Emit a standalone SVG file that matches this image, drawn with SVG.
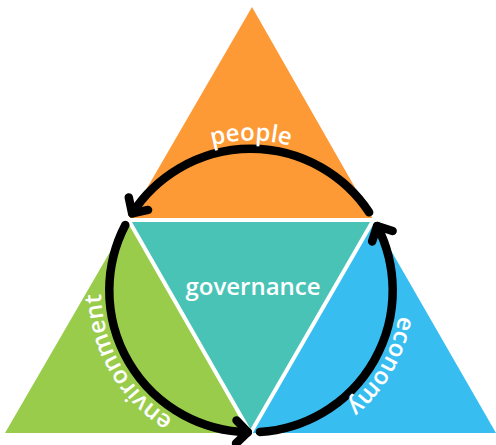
<svg xmlns="http://www.w3.org/2000/svg" xmlns:xlink="http://www.w3.org/1999/xlink" width="496" height="445" viewBox="0 0 496 445">
<style>
.lbl{font-family:"Open Sans","Noto Sans","Liberation Sans",sans-serif;font-weight:600;font-size:24px;fill:#fff}
.arc{fill:none;stroke:#000;stroke-width:8.5;stroke-linecap:round}
.sep{fill:none;stroke:#fff;stroke-width:4;stroke-linejoin:miter}
</style>
<defs>
<marker id="arr" markerUnits="userSpaceOnUse" orient="auto" markerWidth="40" markerHeight="40" viewBox="-20 -20 40 40" refX="0" refY="0" overflow="visible">
<path d="M-11.5,-11.5 L0,0 L-11.5,11.5" fill="none" stroke="#000" stroke-width="8.5" stroke-linecap="round" stroke-linejoin="round"/>
</marker>
<path id="tpPeople" d="M121.1,215.5 A150,150 0 0 1 380.9,215.5"/>
<path id="tpEconomy" d="M380.9,215.5 A150,150 0 0 1 251,440.5"/>
<path id="tpEnv" d="M251,440.5 A150,150 0 0 1 121.1,215.5"/>
</defs>
<rect width="496" height="445" fill="#fff"/>
<g id="people">
<polygon points="252,7 128.5,220 373.5,220" fill="#FD9A36"/>
</g>
<g id="environment">
<polygon points="128.5,220 5,433 250.5,433" fill="#99CC4A"/>
</g>
<g id="economy">
<polygon points="373.5,220 250.5,433 496,433" fill="#38BDF1"/>
</g>
<g id="governance">
<polygon points="128.5,220 373.5,220 250.5,433" fill="#4AC3B7"/>
<polygon class="sep" points="128.5,220 373.5,220 250.5,433"/>
<text class="lbl" x="253" y="295" text-anchor="middle">governance</text>
</g>
<g id="connectors">
<path class="arc" d="M369.16,212.30 A141.7,141.7 0 0 0 132.16,213.33" marker-end="url(#arr)"/>
<path class="arc" d="M125.31,225.07 A141.7,141.7 0 0 0 247.79,432.16" marker-end="url(#arr)"/>
<path class="arc" d="M259.90,431.92 A141.7,141.7 0 0 0 377.14,225.95" marker-end="url(#arr)"/>
</g>
<g id="labels">
<text class="lbl"><textPath xlink:href="#tpPeople" href="#tpPeople" startOffset="50%" text-anchor="middle">people</textPath></text>
<text class="lbl"><textPath xlink:href="#tpEconomy" href="#tpEconomy" startOffset="50%" text-anchor="middle">economy</textPath></text>
<text class="lbl"><textPath xlink:href="#tpEnv" href="#tpEnv" startOffset="50%" text-anchor="middle">environment</textPath></text>
</g>
</svg>
